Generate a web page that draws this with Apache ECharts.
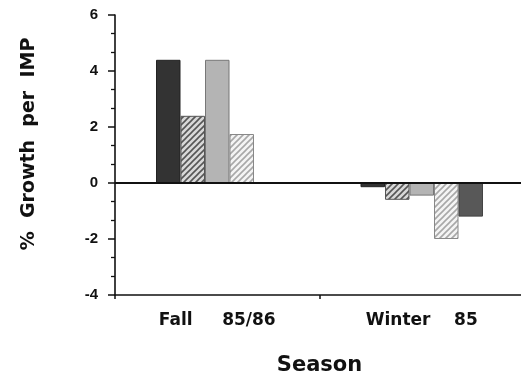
<!DOCTYPE html>
<html><head><meta charset="utf-8">
<script src="https://cdn.jsdelivr.net/npm/echarts@6/dist/echarts.min.js"></script>
<style>html,body{margin:0;padding:0;background:#fff}#c{width:521px;height:377px}</style>
</head><body><div id="c"></div>
<script>
var categories = ['Fall     85/86', 'Winter    85'];
var seriesA = [4.4, -0.15];
var seriesB = [2.4, -0.6];
var seriesC = [4.4, -0.45];
var seriesD = [1.75, -2.0];
var seriesE = [0, -1.2];
var yTicks = {min: -4, max: 6, interval: 2};

function hatch(bg, fg) {
  var c = document.createElement('canvas');
  c.width = 6; c.height = 6;
  var g = c.getContext('2d');
  g.fillStyle = bg; g.fillRect(0, 0, 6, 6);
  g.strokeStyle = fg; g.lineWidth = 1.6;
  g.beginPath();
  g.moveTo(-1, 7); g.lineTo(7, -1);
  g.moveTo(-4, 4); g.lineTo(4, -4);
  g.moveTo(2, 10); g.lineTo(10, 2);
  g.stroke();
  return {image: c, repeat: 'repeat'};
}
var font = '"DejaVu Sans", sans-serif';
var chart = echarts.init(document.getElementById('c'), null, {renderer: 'canvas'});
function bar(data, color, border) {
  return {type: 'bar', data: data, barWidth: 24.5, barGap: '0%',
    itemStyle: {color: color, borderColor: border, borderWidth: 1}};
}
var s = [
  bar(seriesA, '#333333', '#222'),
  bar(seriesB, hatch('#d8d8d8', '#555555'), '#555'),
  bar(seriesC, '#b4b4b4', '#777'),
  bar(seriesD, hatch('#f4f4f4', '#a8a8a8'), '#888'),
  bar(seriesE, '#585858', '#444')
];
s[0].markLine = {silent: true, symbol: 'none', label: {show: false},
  lineStyle: {color: '#111', width: 1.8, type: 'solid'}, data: [{yAxis: 0}]};
chart.setOption({
  animation: false,
  grid: {left: 115, right: -3, top: 15, bottom: 82, containLabel: false, outerBoundsMode: 'none'},
  xAxis: {
    type: 'category', data: categories,
    axisLine: {onZero: false, lineStyle: {color: '#111', width: 1.6}},
    axisTick: {show: true, length: 4, lineStyle: {color: '#111', width: 1.5}},
    axisLabel: {color: '#111', fontFamily: font, fontWeight: 'bold', fontSize: 17, margin: 17},
    name: 'Season', nameLocation: 'middle', nameGap: 60,
    nameTextStyle: {color: '#111', fontFamily: font, fontWeight: 'bold', fontSize: 21}
  },
  yAxis: {
    type: 'value', min: yTicks.min, max: yTicks.max, interval: yTicks.interval,
    axisLine: {show: true, lineStyle: {color: '#111', width: 1.6}},
    axisTick: {show: true, inside: false, length: 7, lineStyle: {color: '#111', width: 1.5}},
    minorTick: {show: true, splitNumber: 3, length: 4, lineStyle: {color: '#111', width: 1.3}},
    splitLine: {show: false},
    axisLabel: {color: '#111', fontFamily: 'Liberation Sans, Arial, sans-serif', fontWeight: 'bold', fontSize: 15, margin: 17}
  },
  graphic: [{
    type: 'text', x: 29, y: 144, rotation: Math.PI / 2,
    style: {text: '%  Growth  per  IMP', x: 0, y: 0, align: 'center', verticalAlign: 'middle',
      fill: '#111', font: 'bold 19px ' + font}
  }],
  series: s
});
</script></body></html>
